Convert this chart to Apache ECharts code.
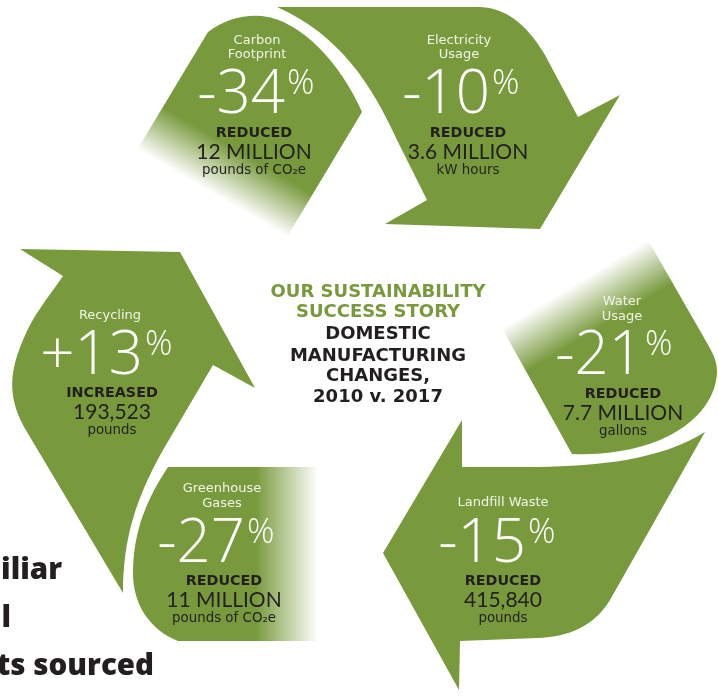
<!DOCTYPE html>
<html><head><meta charset="utf-8">
<style>html,body{margin:0;padding:0;background:#fff}#c{width:718px;height:696px}</style>
<script src="https://cdn.jsdelivr.net/npm/echarts@6/dist/echarts.min.js"></script>
</head><body><div id="c"></div>
<script>
// ---- values ----
const categories = [["Carbon","Footprint"],["Electricity","Usage"],["Recycling"],["Greenhouse","Gases"],["Water","Usage"],["Landfill Waste"]];
const changes    = ["-34","-10","+13","-27","-21","-15"];
const directions = ["REDUCED","REDUCED","INCREASED","REDUCED","REDUCED","REDUCED"];
const amounts    = ["12 MILLION","3.6 MILLION","193,523","11 MILLION","7.7 MILLION","415,840"];
const units      = ["pounds of CO₂e","kW hours","pounds","pounds of CO₂e","gallons","pounds"];
const titleLines = ["OUR SUSTAINABILITY","SUCCESS STORY"];
const subtitleLines = ["DOMESTIC","MANUFACTURING","CHANGES,","2010 v. 2017"];
const cutoffLines = ["familiar","al","products sourced"];

// ---- layout and style ----
const GREEN="#789a3d", INK="#231f20";
const shapes=[
 "M137 150 L208 32 Q232 14 262 16 C300 20 340 62 362 112 L287 237 Z",
 "M277 7 L480 7 C510 8 530 30 545 55 L578 117 L620 95 L540 229 L385 224 L427 200 L397 140 C372 85 340 35 277 7 Z",
 "M20 249 L180 252 L255 388 L213 365 L163 450 C135 500 123 540 123 593 L27 432 C8 400 8 375 23 340 C33 315 48 298 63 276 Z",
 "M168 467 L318 467 L318 641 L178 641 C150 630 133 605 133 573 C133 530 148 497 168 467 Z",
 "M648 240 L707 343 C714 355 717 362 717 372 C716 400 695 425 660 440 C630 452 600 455 572 454 L502 328 Z",
 "M462 420 L462 467 L537 467 C600 466 660 460 705 432 L610 600 C595 625 570 637 537 638 L460 641 L459 690 L383 553 Z"
];
const fades={0:[212,193,237,150],4:[575,284,601,327]};
const slots=[
 {lx:257,ly:[45,59],sx:285,ny:112,dx:254,dy:[138,159,175]},
 {lx:459,ly:[45,59],sx:490,ny:112,dx:468,dy:[138,159,175]},
 {lx:110,ly:[320],sx:143,ny:373,dx:112,dy:[398,419,435]},
 {lx:222,ly:[493,508],sx:245,ny:561,dx:224,dy:[586,607,623]},
 {lx:622,ly:[306,321],sx:643,ny:373,dx:623,dy:[399,420,436]},
 {lx:503,ly:[507],sx:526,ny:561,dx:503,dy:[586,607,623]}
];
const OS='"Open Sans", Lato, sans-serif', LA='Lato, "Open Sans", sans-serif', DV='"DejaVu Sans", "Open Sans", sans-serif';
const MID={[OS]:0.27,[LA]:0.33,[DV]:0.31};
function T(api,text,x,y,weight,size,fam,fill,align){
  const p=api.coord([x,y]);
  return {type:'text',style:{text,x:p[0],y:p[1]-size*MID[fam],font:weight+' '+size+'px '+fam,fill,align:align||'center',verticalAlign:'middle'}};
}
const chart=echarts.init(document.getElementById('c'),null,{renderer:'canvas'});
chart.setOption({
 animation:false,
 grid:{left:0,right:0,top:0,bottom:0},
 xAxis:{type:'value',min:0,max:718,show:false},
 yAxis:{type:'value',min:0,max:696,inverse:true,show:false},
 series:[
 {type:'custom',coordinateSystem:'cartesian2d',silent:true,clip:false,
  data:categories.map((c,i)=>[i]),
  renderItem(params,api){
   const i=api.value(0), s=slots[i], kids=[];
   let fill=GREEN;
   if(fades[i]){const f=fades[i];
     fill=new echarts.graphic.LinearGradient(f[0],f[1],f[2],f[3],[{offset:0,color:'rgba(120,154,61,0)'},{offset:1,color:GREEN}],true);
   }
   if(i===3) fill=new echarts.graphic.LinearGradient(256,0,318,0,[{offset:0,color:GREEN},{offset:1,color:'rgba(120,154,61,0)'}],true);
   kids.push({type:'path',shape:{pathData:shapes[i]},style:{fill}});
   categories[i].forEach((t,k)=>kids.push(T(api,t,s.lx,s.ly[k],400,13,DV,'#f1f4e8')));
   kids.push(T(api,changes[i],s.sx,s.ny,300,60,OS,'#fff','right'));
   kids.push(T(api,'%',s.sx+2,s.ny-19,300,34,OS,'#fff','left'));
   kids.push(T(api,directions[i],s.dx,s.dy[0],700,14.3,DV,INK));
   kids.push(T(api,amounts[i],s.dx,s.dy[1],400,21,LA,INK));
   kids.push(T(api,units[i],s.dx,s.dy[2],400,13.4,DV,INK));
   return {type:'group',children:kids};
  }},
 {type:'custom',coordinateSystem:'cartesian2d',silent:true,clip:false,
  data:[[0]],
  renderItem(params,api){
   const kids=[];
   [298,318].forEach((y,k)=>kids.push(T(api,titleLines[k],378,y,700,18,DV,GREEN)));
   [340,362,382,403].forEach((y,k)=>kids.push(T(api,subtitleLines[k],378,y,700,18,DV,INK)));
   [[62,579],[11,627],[154,675]].forEach((p,k)=>kids.push(T(api,cutoffLines[k],p[0],p[1],800,29.5,OS,INK,'right')));
   return {type:'group',children:kids};
  }}
 ]
});
</script></body></html>
